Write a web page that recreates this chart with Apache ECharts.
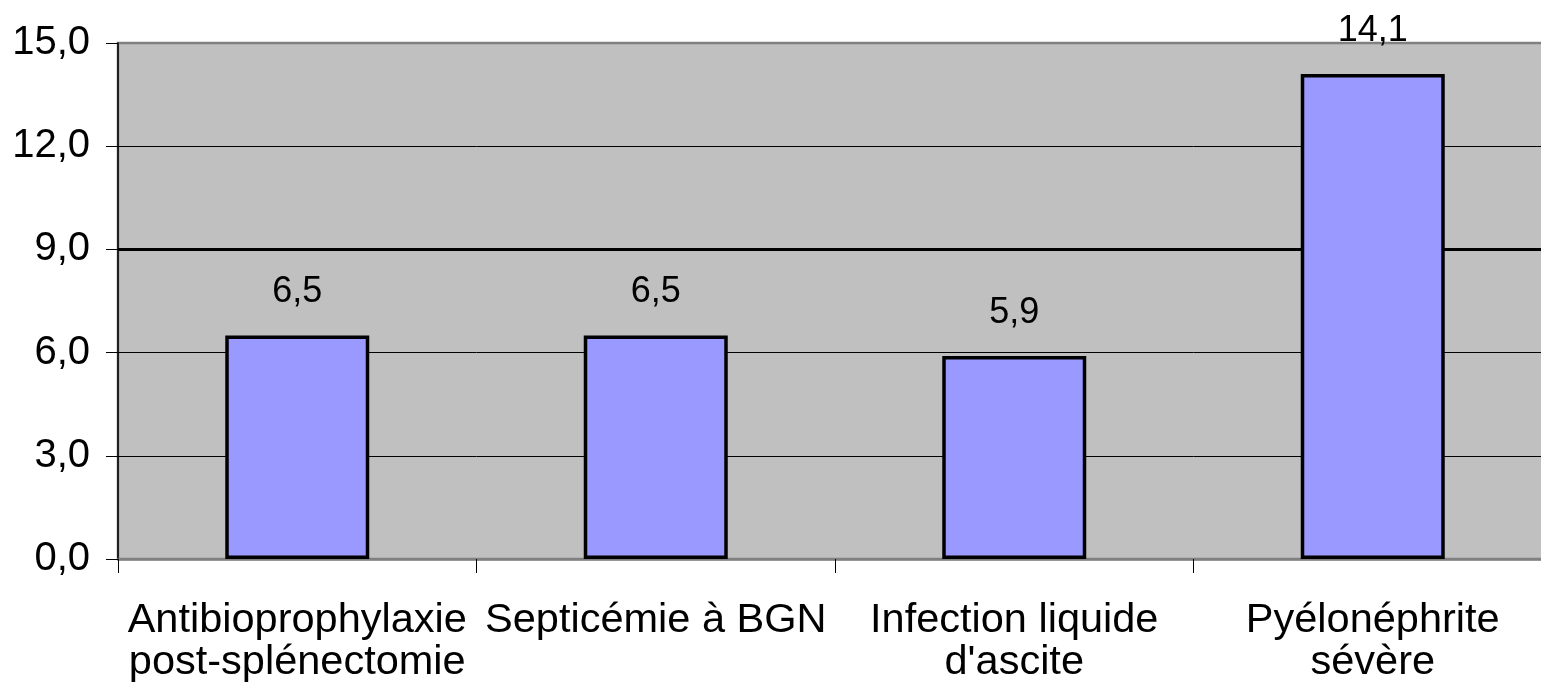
<!DOCTYPE html>
<html>
<head>
<meta charset="utf-8">
<script src="https://cdn.jsdelivr.net/npm/echarts@6/dist/echarts.min.js"></script>
<style>
    html, body { margin: 0; padding: 0; background: #ffffff; overflow: hidden; }
    /* the plot area runs a little past the right edge of the picture */
    #chart { width: 1554px; height: 690px; }
</style>
</head>
<body>
<div id="chart"></div>
<script>
// Chart data
const categories = [
    'Antibioprophylaxie\npost-splénectomie',
    'Septicémie à BGN',
    'Infection liquide\nd\'ascite',
    'Pyélonéphrite\nsévère'
];
const values = [6.5, 6.5, 5.9, 14.1];
const yTicks = [0, 3, 6, 9, 12, 15];
// the 9,0 gridline is drawn heavier in the original
const strongLine = 9;

const fmt = v => v.toFixed(1).replace('.', ',');
const FONT = '"Liberation Sans", Arial, sans-serif';

const chart = echarts.init(document.getElementById('chart'), null, { renderer: 'canvas' });

const option = {
    animation: false,
    backgroundColor: '#ffffff',
    textStyle: { fontFamily: FONT },
    grid: {
        left: 118,
        right: 2,
        top: 43,
        bottom: 131,
        show: true,
        backgroundColor: '#C0C0C0',
        borderColor: '#808080',
        borderWidth: 2.5
    },
    xAxis: {
        type: 'category',
        data: categories,
        axisLine: { show: true, lineStyle: { color: '#808080', width: 2.5 } },
        axisTick: { show: true, length: 14, lineStyle: { color: '#000', width: 1 } },
        axisLabel: {
            color: '#000',
            fontFamily: FONT,
            fontSize: 41.5,
            lineHeight: 42,
            margin: 41,
            interval: 0
        }
    },
    yAxis: {
        type: 'value',
        min: yTicks[0],
        max: yTicks[yTicks.length - 1],
        interval: yTicks[1] - yTicks[0],
        axisLine: { show: true, lineStyle: { color: '#000', width: 1.5 } },
        axisTick: { show: true, length: 12, lineStyle: { color: '#000', width: 1 } },
        splitLine: {
            show: true,
            showMinLine: false,
            showMaxLine: false,
            lineStyle: { color: '#000', width: 1 }
        },
        axisLabel: {
            color: '#000',
            fontFamily: FONT,
            fontSize: 40,
            margin: 28,
            formatter: v => fmt(v)
        }
    },
    series: [
        {
            type: 'bar',
            data: values,
            barWidth: 144,
            itemStyle: {
                color: '#9999FF',
                borderColor: '#000',
                borderWidth: 3.5
            },
            label: {
                show: true,
                position: 'top',
                distance: 25,
                color: '#000',
                fontFamily: FONT,
                fontSize: 36,
                formatter: p => fmt(p.value)
            },
            markLine: {
                silent: true,
                symbol: ['none', 'none'],
                label: { show: false },
                lineStyle: { color: '#000', width: 3, type: 'solid' },
                z: 1,
                data: [{ yAxis: strongLine }]
            }
        }
    ]
};
chart.setOption(option);
</script>
</body>
</html>
